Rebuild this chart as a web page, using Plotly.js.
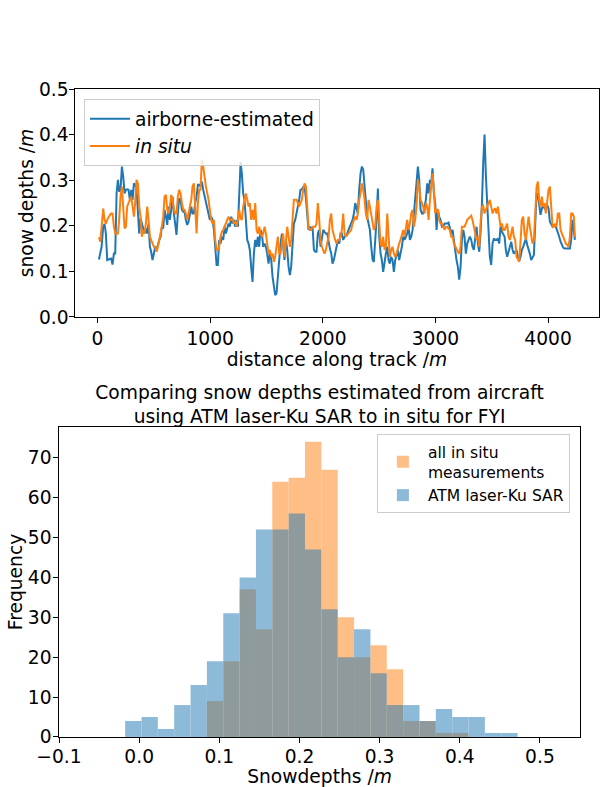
<!DOCTYPE html>
<html><head><meta charset="utf-8">
<script src="https://cdn.plot.ly/plotly-3.0.1.min.js"></script>
<style>html,body{margin:0;padding:0;background:#fff}</style>
</head><body><div id="chart" style="width:604px;height:787px"></div>
<script>
// distance along track (m)
const distance = [12,24,36,
50,62,74,86,98,110,121,133,145,157,
169,181,192,204,216,228,240,252,263,275,
287,299,311,323,334,346,358,370,382,394,
405,417,429,441,453,465,476,488,500,512,
524,536,548,559,571,583,595,607,619,630,
642,654,666,678,690,701,713,725,737,749,
761,772,784,796,808,820,832,843,855,867,
879,891,903,914,926,938,950,962,974,986,
997,1009,1021,1033,1045,1057,1068,1080,1092,1104,
1116,1128,1139,1151,1163,1175,1187,1199,1210,1222,
1234,1246,1258,1270,1281,1293,1305,1317,1329,1341,
1352,1364,1376,1388,1400,1412,1423,1435,1447,1459,
1471,1483,1495,1506,1518,1530,1542,1554,1566,1577,
1589,1601,1613,1625,1637,1648,1660,1672,1684,1696,
1708,1719,1731,1743,1755,1767,1779,1790,1802,1814,
1826,1838,1850,1862,1873,1885,1897,1909,1921,1933,
1944,1956,1968,1980,1992,2004,2015,2027,2039,2051,
2063,2075,2086,2098,2110,2122,2134,2146,2157,2169,
2181,2193,2205,2217,2228,2240,2252,2264,2276,2288,
2300,2311,2323,2335,2347,2359,2371,2382,2394,2406,
2418,2430,2442,2453,2465,2477,2489,2501,2513,2524,
2536,2548,2560,2572,2584,2595,2607,2619,2631,2643,
2655,2667,2678,2690,2702,2714,2726,2738,2749,2761,
2773,2785,2797,2809,2820,2832,2844,2856,2868,2880,
2891,2903,2915,2927,2939,2951,2962,2974,2986,2998,
3010,3022,3033,3045,3057,3069,3081,3093,3105,3116,
3128,3140,3152,3164,3176,3187,3199,3211,3223,3235,
3247,3258,3270,3282,3294,3306,3318,3329,3341,3353,
3365,3377,3389,3400,3412,3424,3436,3448,3460,3471,
3483,3495,3507,3519,3531,3542,3554,3566,3578,3590,
3602,3614,3625,3637,3649,3661,3673,3685,3696,3708,
3720,3732,3744,3756,3767,3779,3791,3803,3815,3827,
3838,3850,3862,3874,3886,3898,3910,3921,3933,3945,
3957,3969,3980,3992,4004,4016,4028,4040,4052,4063,
4075,4087,4099,4111,4123,4134,4146,4158,4170,4182,
4194,4205,4217,4229,4238];

// airborne-estimated snow depth (m)
const airborneDepth = [0.126,0.139,0.154,
0.198,0.204,0.183,0.125,0.126,0.127,0.128,0.115,0.139,0.139,
0.271,0.301,0.275,0.279,0.330,0.308,0.271,0.279,0.280,0.279,
0.257,0.279,0.257,0.293,0.290,0.282,0.227,0.183,0.216,0.205,
0.198,0.183,0.194,0.183,0.205,0.154,0.143,0.125,0.139,0.154,
0.147,0.161,0.169,0.175,0.198,0.194,0.235,0.220,0.202,0.242,
0.213,0.235,0.264,0.227,0.194,0.180,0.227,0.260,0.257,0.235,
0.231,0.231,0.213,0.202,0.209,0.227,0.242,0.227,0.227,0.250,
0.264,0.290,0.290,0.286,0.297,0.279,0.264,0.257,0.242,0.227,
0.213,0.220,0.213,0.191,0.154,0.114,0.114,0.169,0.161,0.176,
0.169,0.198,0.183,0.198,0.205,0.198,0.220,0.205,0.213,0.198,
0.213,0.198,0.264,0.340,0.315,0.271,0.257,0.205,0.169,0.161,
0.147,0.110,0.077,0.139,0.169,0.154,0.176,0.154,0.191,0.183,
0.154,0.161,0.154,0.139,0.117,0.139,0.125,0.088,0.066,0.048,
0.052,0.081,0.125,0.161,0.183,0.154,0.125,0.169,0.147,0.110,
0.092,0.110,0.169,0.205,0.213,0.227,0.242,0.257,0.279,0.280,
0.285,0.286,0.260,0.227,0.191,0.198,0.191,0.198,0.147,0.143,
0.143,0.183,0.191,0.154,0.176,0.191,0.187,0.183,0.183,0.161,
0.150,0.139,0.117,0.125,0.139,0.154,0.169,0.161,0.183,0.183,
0.169,0.176,0.180,0.183,0.191,0.198,0.205,0.213,0.227,0.250,
0.238,0.227,0.279,0.315,0.330,0.323,0.286,0.242,0.220,0.205,
0.191,0.154,0.125,0.121,0.161,0.213,0.282,0.176,0.139,0.125,
0.099,0.125,0.139,0.154,0.125,0.117,0.132,0.125,0.099,0.125,
0.139,0.147,0.125,0.139,0.154,0.176,0.169,0.176,0.183,0.198,
0.169,0.176,0.191,0.227,0.257,0.279,0.330,0.301,0.235,0.227,
0.227,0.242,0.257,0.293,0.271,0.301,0.293,0.326,0.271,0.250,
0.191,0.235,0.220,0.213,0.198,0.198,0.205,0.205,0.205,0.207,
0.191,0.183,0.191,0.169,0.139,0.125,0.110,0.082,0.110,0.169,
0.191,0.176,0.139,0.161,0.169,0.176,0.169,0.154,0.147,0.176,
0.198,0.161,0.143,0.183,0.242,0.337,0.400,0.308,0.235,0.176,
0.132,0.114,0.161,0.172,0.169,0.169,0.172,0.161,0.198,0.187,
0.180,0.176,0.147,0.132,0.143,0.158,0.165,0.147,0.139,0.143,
0.147,0.132,0.123,0.132,0.147,0.154,0.165,0.172,0.158,0.150,
0.139,0.125,0.132,0.136,0.205,0.271,0.268,0.250,0.224,0.238,
0.246,0.238,0.235,0.246,0.238,0.209,0.202,0.198,0.202,0.202,
0.194,0.187,0.176,0.165,0.158,0.152,0.150,0.150,0.150,0.149,
0.150,0.169,0.213,0.191,0.169];

// in situ snow depth (m)
const inSituDepth = [0.175,0.165,0.198,
0.238,0.213,0.205,0.213,0.220,0.224,0.227,0.227,0.198,0.183,
0.182,0.183,0.213,0.264,0.286,0.242,0.194,0.198,0.242,0.250,
0.257,0.264,0.242,0.220,0.250,0.301,0.293,0.242,0.220,0.176,
0.191,0.183,0.205,0.242,0.213,0.176,0.169,0.161,0.154,0.154,
0.143,0.154,0.169,0.176,0.198,0.220,0.264,0.268,0.235,0.227,
0.242,0.268,0.257,0.235,0.227,0.227,0.264,0.279,0.271,0.250,
0.235,0.235,0.227,0.213,0.227,0.242,0.257,0.286,0.293,0.242,
0.183,0.250,0.279,0.279,0.345,0.330,0.301,0.286,0.271,0.257,
0.235,0.213,0.205,0.213,0.169,0.147,0.147,0.154,0.176,0.187,
0.191,0.198,0.205,0.213,0.220,0.213,0.213,0.216,0.205,0.209,
0.198,0.213,0.235,0.216,0.213,0.242,0.257,0.271,0.257,0.242,
0.250,0.213,0.235,0.213,0.250,0.191,0.183,0.198,0.183,0.176,
0.183,0.198,0.183,0.161,0.139,0.147,0.132,0.139,0.121,0.132,
0.161,0.176,0.139,0.139,0.161,0.183,0.132,0.169,0.198,0.176,
0.154,0.169,0.213,0.257,0.257,0.257,0.250,0.242,0.250,0.257,
0.279,0.293,0.286,0.235,0.198,0.191,0.191,0.198,0.198,0.198,
0.205,0.250,0.213,0.169,0.154,0.147,0.139,0.147,0.161,0.176,
0.213,0.227,0.191,0.176,0.169,0.161,0.169,0.169,0.176,0.191,
0.227,0.183,0.176,0.180,0.183,0.187,0.191,0.205,0.213,0.220,
0.213,0.227,0.257,0.271,0.293,0.279,0.257,0.227,0.213,0.257,
0.242,0.227,0.213,0.191,0.198,0.242,0.257,0.205,0.161,0.154,
0.176,0.147,0.154,0.227,0.169,0.132,0.147,0.154,0.139,0.132,
0.139,0.154,0.161,0.169,0.183,0.191,0.176,0.198,0.213,0.191,
0.205,0.227,0.235,0.198,0.213,0.242,0.301,0.286,0.257,0.250,
0.242,0.227,0.250,0.242,0.213,0.257,0.286,0.315,0.279,0.227,
0.235,0.235,0.213,0.205,0.205,0.198,0.191,0.198,0.198,0.194,
0.191,0.176,0.176,0.161,0.154,0.147,0.143,0.139,0.154,0.198,
0.198,0.198,0.205,0.213,0.216,0.220,0.222,0.213,0.198,0.176,
0.169,0.176,0.154,0.205,0.242,0.244,0.227,0.235,0.242,0.250,
0.257,0.242,0.227,0.235,0.238,0.227,0.242,0.220,0.198,0.205,
0.191,0.191,0.198,0.205,0.176,0.169,0.183,0.198,0.176,0.169,
0.132,0.125,0.121,0.169,0.213,0.220,0.183,0.169,0.198,0.220,
0.198,0.176,0.161,0.169,0.242,0.286,0.297,0.257,0.242,0.264,
0.242,0.250,0.227,0.257,0.279,0.286,0.235,0.198,0.198,0.205,
0.198,0.227,0.227,0.191,0.183,0.176,0.169,0.161,0.158,0.154,
0.176,0.227,0.227,0.220,0.176];

// histogram bins (left edges, m) and counts
const binLeftEdges = [-0.0175,0.0029,0.0233,0.0437,0.0641,0.0845,0.1049,0.1253,0.1457,0.1661,0.1865,0.2069,
                      0.2273,0.2477,0.2681,0.2885,0.3089,0.3293,0.3497,0.3701,0.3905,0.4109,0.4313,0.4517];
const binWidth = 0.0204;
const inSituCounts = [0,0,0,0,0,9,19,37,27,64,65,74,67,30,20,23,17,4,4,1,1,0,0,0];
const atmCounts = [4,5,2,8,13,19,31,40,52,52,56,47,32,20,27,16,8,8,4,7,5,5,1,1];

const binCenters = binLeftEdges.map(e => e + binWidth / 2);
const FONT = 'DejaVu Sans';
const FS = 18.67;

const traces = [
  {x: distance, y: airborneDepth, type: 'scatter', mode: 'lines', name: 'airborne-estimated',
   line: {color: '#1f77b4', width: 2}, xaxis: 'x', yaxis: 'y', legend: 'legend'},
  {x: distance, y: inSituDepth, type: 'scatter', mode: 'lines', name: '<i>in situ</i>',
   line: {color: '#ff7f0e', width: 2}, xaxis: 'x', yaxis: 'y', legend: 'legend'},
  {x: binCenters, y: inSituCounts, type: 'bar', width: binWidth, name: 'all in situ<br>measurements',
   marker: {color: '#ff7f0e', line: {width: 0}}, opacity: 0.5, xaxis: 'x2', yaxis: 'y2', legend: 'legend2'},
  {x: binCenters, y: atmCounts, type: 'bar', width: binWidth, name: 'ATM laser-Ku SAR',
   marker: {color: '#1f77b4', line: {width: 0}}, opacity: 0.5, xaxis: 'x2', yaxis: 'y2', legend: 'legend2'}
];

const axisCommon = {
  showline: true, mirror: true, linecolor: '#000', linewidth: 1,
  ticks: 'outside', ticklen: 4.7, tickwidth: 1, tickcolor: '#000',
  showgrid: false, zeroline: false,
  tickfont: {family: FONT, size: FS, color: '#000'}
};

const layout = {
  width: 604, height: 787,
  margin: {l: 0, r: 0, t: 0, b: 0},
  paper_bgcolor: '#fff', plot_bgcolor: '#fff',
  font: {family: FONT, color: '#000'},
  barmode: 'overlay',
  showlegend: true,
  title: {text: 'Comparing snow depths estimated from aircraft<br>using ATM laser-Ku SAR to in situ for FYI',
          font: {family: FONT, size: FS, color: '#000'},
          x: 0.529, xanchor: 'center', xref: 'paper', y: 0.493, yanchor: 'middle', yref: 'paper'},
  xaxis: Object.assign({}, axisCommon, {domain: [0.1242, 0.9917], range: [-200, 4452], dtick: 1000, tick0: 0,
          anchor: 'y', title: {text: 'distance along track /<i>m</i>', font: {family: FONT, size: FS}, standoff: 3}}),
  yaxis: Object.assign({}, axisCommon, {domain: [0.5972, 0.8869], range: [0, 0.5], dtick: 0.1, tick0: 0,
          tickformat: '.1f', ticklabelstandoff: -3, anchor: 'x',
          title: {text: 'snow depths /<i>m</i>', font: {family: FONT, size: FS}, standoff: 0}}),
  xaxis2: Object.assign({}, axisCommon, {domain: [0.0977, 0.9603], range: [-0.1, 0.55], dtick: 0.1, tick0: 0,
          tickformat: '.1f', ticklabelstandoff: -2, anchor: 'y2',
          title: {text: 'Snowdepths /<i>m</i>', font: {family: FONT, size: FS}, standoff: 4}}),
  yaxis2: Object.assign({}, axisCommon, {domain: [0.0636, 0.4574], range: [0, 77.7], dtick: 10, tick0: 0,
          ticklabelstandoff: -2, anchor: 'x2', title: {text: 'Frequency', font: {family: FONT, size: FS}, standoff: 0}}),
  legend: {x: 0.139, y: 0.874, xanchor: 'left', yanchor: 'top', xref: 'paper', yref: 'paper',
           bgcolor: 'rgba(255,255,255,0.8)', bordercolor: '#cccccc', borderwidth: 1,
           font: {family: FONT, size: FS, color: '#000'}, itemwidth: 40},
  legend2: {x: 0.624, y: 0.4485, xanchor: 'left', yanchor: 'top', xref: 'paper', yref: 'paper',
           bgcolor: 'rgba(255,255,255,0.8)', bordercolor: '#cccccc', borderwidth: 1,
           font: {family: FONT, size: 15.56, color: '#000'}, itemwidth: 40}
};

Plotly.newPlot('chart', traces, layout, {displayModeBar: false, responsive: false});
</script>
</body></html>
